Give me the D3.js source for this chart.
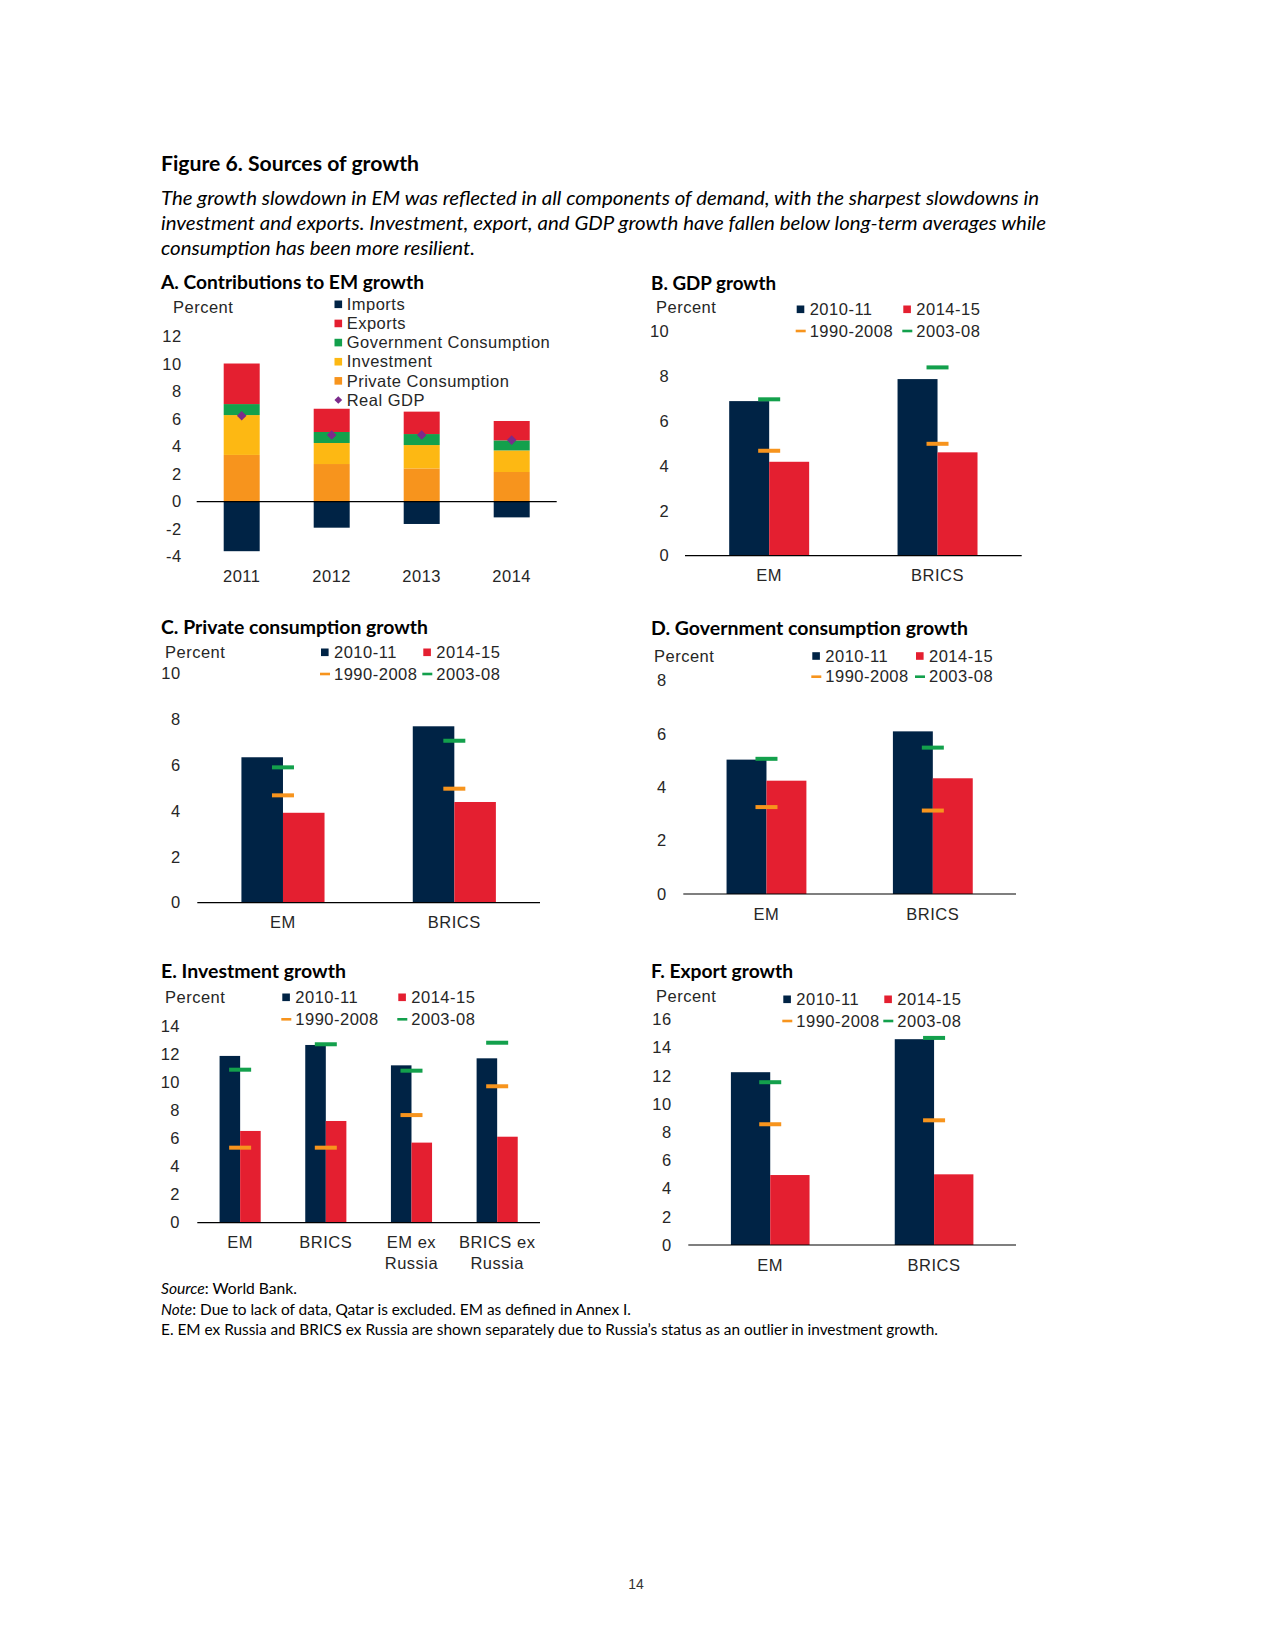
<!DOCTYPE html>
<html><head><meta charset="utf-8">
<script src="https://cdn.jsdelivr.net/npm/d3@7"></script>
<style>body{margin:0;background:#fff} svg{display:block}</style>
</head><body>
<svg id="page" width="1275" height="1650"></svg>
<script>
// ---------------- DATA ----------------
// Panel A: contributions to EM growth (percentage points)
const aYears = ["2011", "2012", "2013", "2014"];
const aPrivateConsumption = [3.40, 2.74, 2.42, 2.16];
const aInvestment = [2.90, 1.53, 1.70, 1.57];
const aGovConsumption = [0.80, 0.80, 0.80, 0.73];
const aExports = [2.95, 1.69, 1.63, 1.41];
const aImports = [-3.60, -1.89, -1.62, -1.14];
const aRealGDP = [6.25, 4.85, 4.85, 4.48];
const aTicks = [-4, -2, 0, 2, 4, 6, 8, 10, 12];

// Panel B: GDP growth
const bCats = ["EM", "BRICS"];
const b2010_11 = [6.88, 7.86];
const b2014_15 = [4.18, 4.60];
const b1990_2008 = [4.67, 4.98];
const b2003_08 = [6.96, 8.38];
const bTicks = [0, 2, 4, 6, 8, 10];

// Panel C: Private consumption growth
const cCats = ["EM", "BRICS"];
const c2010_11 = [6.34, 7.69];
const c2014_15 = [3.92, 4.39];
const c1990_2008 = [4.68, 4.97];
const c2003_08 = [5.90, 7.06];
const cTicks = [0, 2, 4, 6, 8, 10];

// Panel D: Government consumption growth
const dCats = ["EM", "BRICS"];
const d2010_11 = [5.04, 6.10];
const d2014_15 = [4.25, 4.34];
const d1990_2008 = [3.26, 3.13];
const d2003_08 = [5.07, 5.49];
const dTicks = [0, 2, 4, 6, 8];

// Panel E: Investment growth
const eCats = ["EM", "BRICS", "EM ex\nRussia", "BRICS ex\nRussia"];
const e2010_11 = [11.87, 12.65, 11.20, 11.70];
const e2014_15 = [6.53, 7.24, 5.70, 6.12];
const e1990_2008 = [5.34, 5.34, 7.66, 9.71];
const e2003_08 = [10.89, 12.70, 10.82, 12.81];
const eTicks = [0, 2, 4, 6, 8, 10, 12, 14];

// Panel F: Export growth
const fCats = ["EM", "BRICS"];
const f2010_11 = [12.25, 14.59];
const f2014_15 = [4.96, 5.01];
const f1990_2008 = [8.56, 8.84];
const f2003_08 = [11.54, 14.68];
const fTicks = [0, 2, 4, 6, 8, 10, 12, 14, 16];

const seriesNames = ["2010-11", "2014-15", "1990-2008", "2003-08"];
const aLegendNames = ["Imports", "Exports", "Government Consumption", "Investment", "Private Consumption", "Real GDP"];

// ---------------- STYLE ----------------
const C = {
  navy: "#002345", red: "#e41f30", green: "#13a04c", yellow: "#fdb813",
  orange: "#f7941d", purple: "#7b2b8b", text: "#262626"
};
const AX = "'Liberation Sans', Arial, Helvetica, sans-serif";
const CAL = "Lato, 'Open Sans', sans-serif";
const AXSIZE = 16.5;
const AXLS = 0.5;

const svg = d3.select("#page");

function calText(x, y, parts, opts) {
  const t = svg.append("text").attr("x", x).attr("y", y)
    .attr("font-family", CAL).attr("font-size", opts.size)
    .attr("fill", "#000");
  if (opts.weight) t.attr("font-weight", opts.weight);
  parts.forEach(p => {
    t.append("tspan").text(p.t).attr("font-style", p.i ? "italic" : "normal");
  });
  if (opts.width) t.attr("textLength", opts.width).attr("lengthAdjust", "spacingAndGlyphs");
  return t;
}
function styleAx(sel) {
  sel.attr("font-family", AX).attr("font-size", AXSIZE).attr("letter-spacing", AXLS).attr("fill", C.text);
}
function axText(g, x, y, str, anchor) {
  const t = g.append("text").attr("x", x).attr("y", y).attr("dy", "0.35em")
    .attr("text-anchor", anchor || "start").text(str);
  styleAx(t);
  return t;
}

// ---------------- HEADER ----------------
calText(161, 171, [{t: "Figure 6. Sources of growth"}], {size: 20, weight: 700, width: 258});
calText(161, 205, [{t: "The growth slowdown in EM was reflected in all components of demand, with the sharpest slowdowns in", i: true}], {size: 18.8, width: 878});
calText(161, 230, [{t: "investment and exports. Investment, export, and GDP growth have fallen below long-term averages while", i: true}], {size: 18.8, width: 885});
calText(161, 255, [{t: "consumption has been more resilient.", i: true}], {size: 18.8, width: 314});

// ---------------- PANEL A ----------------
(function () {
  const g = svg.append("g");
  calText(161, 288.5, [{t: "A. Contributions to EM growth"}], {size: 18.5, weight: 700, width: 263});
  axText(g, 173, 307, "Percent");
  const x = d3.scaleBand().domain(aYears).range([196.7, 556.7]).paddingInner(0.6).paddingOuter(0.3);
  const y = d3.scaleLinear().domain([-4, 12]).range([556.7, 336.7]);
  const rows = aYears.map((yr, i) => ({
    year: yr, pc: aPrivateConsumption[i], inv: aInvestment[i], gov: aGovConsumption[i],
    exp: aExports[i], imp: aImports[i]
  }));
  const keys = ["pc", "inv", "gov", "exp", "imp"];
  const colors = {pc: C.orange, inv: C.yellow, gov: C.green, exp: C.red, imp: C.navy};
  const stacked = d3.stack().keys(keys).offset(d3.stackOffsetDiverging)(rows);
  g.selectAll("g.layer").data(stacked).join("g").attr("fill", d => colors[d.key])
    .selectAll("rect").data(d => d).join("rect")
    .attr("x", d => x(d.data.year)).attr("width", x.bandwidth())
    .attr("y", d => y(Math.max(d[0], d[1])))
    .attr("height", d => Math.abs(y(d[0]) - y(d[1])));
  g.append("line").attr("x1", x.range()[0]).attr("x2", x.range()[1])
    .attr("y1", y(0)).attr("y2", y(0)).attr("stroke", "#000").attr("stroke-width", 1.2);
  g.selectAll("path.gdp").data(aRealGDP).join("path")
    .attr("d", d3.symbol(d3.symbolSquare, 46)())
    .attr("transform", (d, i) => `translate(${x(aYears[i]) + x.bandwidth() / 2},${y(d)}) rotate(45)`)
    .attr("fill", C.purple);
  const ya = g.append("g").attr("transform", "translate(181.7,0)")
    .call(d3.axisLeft(y).tickValues(aTicks).tickFormat(d => String(d)).tickSize(0).tickPadding(0));
  ya.select(".domain").remove();
  styleAx(ya.selectAll("text"));
  const xa = g.append("g").attr("transform", `translate(0,${y(-4)})`)
    .call(d3.axisBottom(x).tickSize(0).tickPadding(14));
  xa.select(".domain").remove();
  styleAx(xa.selectAll("text"));
  const legColors = [C.navy, C.red, C.green, C.yellow, C.orange, C.purple];
  const legY = d3.scalePoint().domain(aLegendNames).range([304.3, 400]);
  aLegendNames.forEach((n, i) => {
    const yy = legY(n);
    if (i < 5) {
      g.append("rect").attr("x", 334.5).attr("y", yy - 3.8).attr("width", 7.6).attr("height", 7.6).attr("fill", legColors[i]);
    } else {
      g.append("path").attr("d", d3.symbol(d3.symbolSquare, 30)())
        .attr("transform", `translate(338.3,${yy}) rotate(45)`).attr("fill", legColors[i]);
    }
    axText(g, 346.7, yy, n);
  });
})();

// ---------------- GROUPED PANELS ----------------
function groupedPanel(L, cats, s1, s2, m1, m2, ticks) {
  const g = svg.append("g");
  calText(L.titleX, L.titleY, [{t: L.title}], {size: 18.5, weight: 700, width: L.titleW});
  axText(g, L.percentX, L.percentY, "Percent");
  const x = d3.scaleBand().domain(cats).range([L.x0, L.x1]).paddingInner(L.pad).paddingOuter(L.pad / 2);
  const xs = d3.scaleBand().domain([0, 1]).range([0, x.bandwidth()]);
  const y = d3.scaleLinear().domain([0, d3.max(ticks)]).range([L.y0, L.yTop]);
  const series = [{v: s1, c: C.navy}, {v: s2, c: C.red}];
  series.forEach((s, k) => {
    g.selectAll(null).data(s.v).join("rect")
      .attr("x", (d, i) => x(cats[i]) + xs(k)).attr("width", xs.bandwidth())
      .attr("y", d => y(d)).attr("height", d => y(0) - y(d)).attr("fill", s.c);
  });
  const marks = [{v: m1, c: C.orange}, {v: m2, c: C.green}];
  marks.forEach(m => {
    g.selectAll(null).data(m.v).join("rect")
      .attr("x", (d, i) => x(cats[i]) + x.bandwidth() / 2 - 11).attr("width", 22)
      .attr("y", d => y(d) - 2).attr("height", 4).attr("fill", m.c);
  });
  g.append("line").attr("x1", L.x0).attr("x2", L.x1).attr("y1", y(0)).attr("y2", y(0))
    .attr("stroke", "#000").attr("stroke-width", 1.2);
  const ya = g.append("g").attr("transform", `translate(${L.tickRight},0)`)
    .call(d3.axisLeft(y).tickValues(ticks).tickFormat(d => String(d)).tickSize(0).tickPadding(0));
  ya.select(".domain").remove();
  styleAx(ya.selectAll("text"));
  const xa = g.append("g").attr("transform", `translate(0,${y(0)})`)
    .call(d3.axisBottom(x).tickSize(0).tickPadding(14));
  xa.select(".domain").remove();
  styleAx(xa.selectAll("text"));
  xa.selectAll("text").each(function (d) {
    const lines = d.split("\n");
    if (lines.length > 1) {
      const t = d3.select(this); t.text(null);
      lines.forEach((ln, j) => t.append("tspan").attr("x", 0).attr("dy", j === 0 ? "0.71em" : "1.25em").text(ln));
      t.attr("dy", null);
    }
  });
  const lg = L.leg;
  g.append("rect").attr("x", lg.c1).attr("y", lg.r1 - 3.8).attr("width", 7.6).attr("height", 7.6).attr("fill", C.navy);
  axText(g, lg.c1 + 13, lg.r1, seriesNames[0]);
  g.append("rect").attr("x", lg.c2).attr("y", lg.r1 - 3.8).attr("width", 7.6).attr("height", 7.6).attr("fill", C.red);
  axText(g, lg.c2 + 13, lg.r1, seriesNames[1]);
  g.append("rect").attr("x", lg.c1 - 1).attr("y", lg.r2 - 1.3).attr("width", 10).attr("height", 2.6).attr("fill", C.orange);
  axText(g, lg.c1 + 13, lg.r2, seriesNames[2]);
  g.append("rect").attr("x", lg.c2 - 1).attr("y", lg.r2 - 1.3).attr("width", 10).attr("height", 2.6).attr("fill", C.green);
  axText(g, lg.c2 + 13, lg.r2, seriesNames[3]);
}

groupedPanel({title: "B. GDP growth", titleX: 651, titleY: 289.5, titleW: 125,
  percentX: 656, percentY: 307.7, x0: 685, x1: 1021.7, pad: 0.525, y0: 555.7, yTop: 331, tickRight: 669.3,
  leg: {c1: 796.7, c2: 903.3, r1: 309.3, r2: 331}}, bCats, b2010_11, b2014_15, b1990_2008, b2003_08, bTicks);

groupedPanel({title: "C. Private consumption growth", titleX: 161, titleY: 634, titleW: 267,
  percentX: 165, percentY: 652.3, x0: 197.3, x1: 540, pad: 0.515, y0: 902.7, yTop: 673.3, tickRight: 180.7,
  leg: {c1: 321, c2: 423.3, r1: 652.3, r2: 674}}, cCats, c2010_11, c2014_15, c1990_2008, c2003_08, cTicks);

groupedPanel({title: "D. Government consumption growth", titleX: 651, titleY: 634.5, titleW: 317,
  percentX: 654, percentY: 656.7, x0: 683.3, x1: 1016, pad: 0.52, y0: 894, yTop: 680.7, tickRight: 666.7,
  leg: {c1: 812.3, c2: 916, r1: 656, r2: 676.7}}, dCats, d2010_11, d2014_15, d1990_2008, d2003_08, dTicks);

groupedPanel({title: "E. Investment growth", titleX: 161, titleY: 977.5, titleW: 185,
  percentX: 165, percentY: 997.3, x0: 197.3, x1: 540, pad: 0.52, y0: 1222.7, yTop: 1026, tickRight: 180,
  leg: {c1: 282.3, c2: 398.3, r1: 997.3, r2: 1019.3}}, eCats, e2010_11, e2014_15, e1990_2008, e2003_08, eTicks);

groupedPanel({title: "F. Export growth", titleX: 651, titleY: 977.5, titleW: 142,
  percentX: 656, percentY: 996.7, x0: 688.3, x1: 1016, pad: 0.52, y0: 1245, yTop: 1019.3, tickRight: 671.7,
  leg: {c1: 783.3, c2: 884.3, r1: 999.3, r2: 1021}}, fCats, f2010_11, f2014_15, f1990_2008, f2003_08, fTicks);

// ---------------- FOOTER ----------------
calText(161, 1294, [{t: "Source", i: true}, {t: ": World Bank."}], {size: 15.5, width: 136});
calText(161, 1314.5, [{t: "Note", i: true}, {t: ": Due to lack of data, Qatar is excluded. EM as defined in Annex I."}], {size: 15.5, width: 470});
calText(161, 1335, [{t: "E. EM ex Russia and BRICS ex Russia are shown separately due to Russia\u2019s status as an outlier in investment growth."}], {size: 15.5, width: 777});

svg.append("text").attr("x", 636).attr("y", 1589).attr("text-anchor", "middle")
  .attr("font-family", AX).attr("font-size", 14).attr("fill", "#333").text("14");
</script>
</body></html>
